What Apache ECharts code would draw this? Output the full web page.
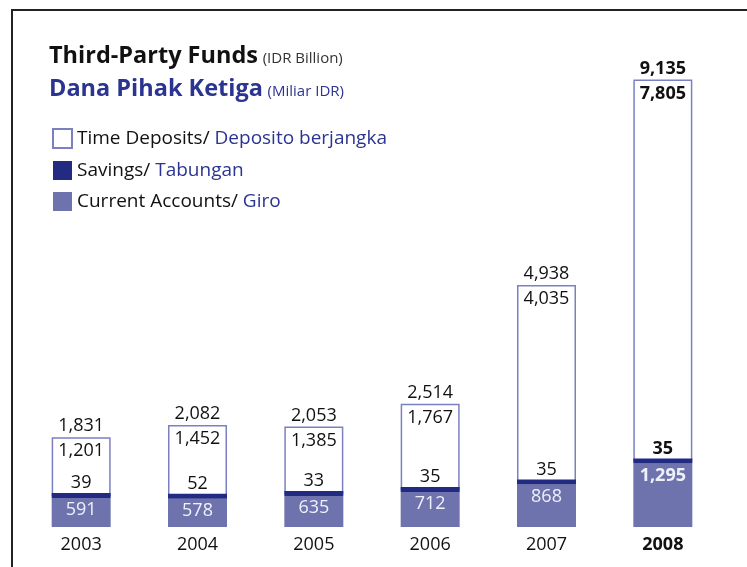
<!DOCTYPE html>
<html><head><meta charset="utf-8">
<script src="https://cdn.jsdelivr.net/npm/echarts@6/dist/echarts.min.js"></script>
<style>html,body{margin:0;padding:0;background:#fff}#c{width:747px;height:567px}</style>
</head><body><div id="c"></div>
<script>
var years = ['2003','2004','2005','2006','2007','2008'];
var currentAccounts = [591, 578, 635, 712, 868, 1295];
var savings = [39, 52, 33, 35, 35, 35];
var timeDeposits = [1201, 1452, 1385, 1767, 4035, 7805];
var totals = [1831, 2082, 2053, 2514, 4938, 9135];

var FONT = 'Open Sans';
var cCur = '#6f73ad', cSav = '#222a82', cTimeBorder = '#7b80c0', cBlue = '#2b3490';
function fmt(v){ return v.toLocaleString('en-US'); }
function lastBold(i){ return i === years.length - 1 ? 'bold' : 'normal'; }
function mk(arr){
  return arr.map(function(v,i){ return {value:v, label:{fontWeight:lastBold(i)}}; });
}

var chart = echarts.init(document.getElementById('c'));
chart.setOption({
  animation:false,
  textStyle:{fontFamily:FONT},
  title:{
    left:49, top:40, padding:0,
    text:'{a|Third-Party Funds} {b|(IDR Billion)}\n{c|Dana Pihak Ketiga} {d|(Miliar IDR)}',
    textStyle:{fontWeight:'normal', rich:{
      a:{fontFamily:FONT,fontSize:23.5,fontWeight:'bold',color:'#111',lineHeight:33},
      b:{fontFamily:FONT,fontSize:15,fontWeight:'normal',color:'#333',lineHeight:33,padding:[4,0,0,0]},
      c:{fontFamily:FONT,fontSize:23.5,fontWeight:'bold',color:cBlue,lineHeight:33},
      d:{fontFamily:FONT,fontSize:15,fontWeight:'normal',color:cBlue,lineHeight:33,padding:[4,0,0,0]}
    }}
  },
  legend:{
    orient:'vertical', left:52, top:128, padding:0, itemWidth:19, itemHeight:19, itemGap:12,
    icon:'rect',
    data:['Time Deposits','Savings','Current Accounts'],
    formatter:function(n){
      var m = {'Time Deposits':'Deposito berjangka','Savings':'Tabungan','Current Accounts':'Giro'};
      return '{k|'+n+'/ }{v|'+m[n]+'}';
    },
    textStyle:{rich:{
      k:{fontFamily:FONT,fontSize:19,color:'#111'},
      v:{fontFamily:FONT,fontSize:19,color:cBlue}
    }}
  },
  graphic:[
    {type:'polyline', shape:{points:[[12,567],[12,10],[747,10]]}, style:{stroke:'#222',lineWidth:2,fill:null}, z:100}
  ],
  grid:{left:23, right:26, top:37, bottom:40},
  xAxis:{type:'category', data:years, axisLine:{show:false}, axisTick:{show:false},
    axisLabel:{fontSize:18, color:'#111', margin:9, fontFamily:FONT,
      formatter:function(v,i){ return i===years.length-1 ? '{b|'+v+'}' : v; },
      rich:{b:{fontWeight:'bold',fontSize:18,color:'#111',fontFamily:FONT}}}},
  yAxis:{type:'value', min:0, max:10000, show:false, splitLine:{show:false}},
  series:[
    {name:'Current Accounts', type:'bar', stack:'s', barWidth:59, data:mk(currentAccounts),
     itemStyle:{color:cCur},
     label:{show:true, position:'insideTop', distance:3, color:'#eef0fa', fontSize:18, fontFamily:FONT, formatter:function(p){return fmt(p.value);}}},
    {name:'Savings', type:'bar', stack:'s', barWidth:59, barMinHeight:5, z:3, data:mk(savings),
     itemStyle:{color:cSav},
     label:{show:true, position:'top', distance:1, color:'#111', fontSize:18, fontFamily:FONT, formatter:function(p){return fmt(p.value);}}},
    {name:'Time Deposits', type:'bar', stack:'s', barWidth:59, z:2, data:mk(timeDeposits),
     itemStyle:{color:'#fff', borderColor:cTimeBorder, borderWidth:1.5},
     label:{show:true, position:'insideTop', distance:5, color:'#111', fontSize:18, fontFamily:FONT, formatter:function(p){return fmt(p.value);}}},
    {name:'Total', type:'bar', barWidth:59, barGap:'-100%', z:1, data:mk(totals),
     itemStyle:{color:'rgba(0,0,0,0)'}, silent:true,
     label:{show:true, position:'top', distance:2, color:'#111', fontSize:18, fontFamily:FONT, formatter:function(p){return fmt(p.value);}}}
  ]
});
</script></body></html>
